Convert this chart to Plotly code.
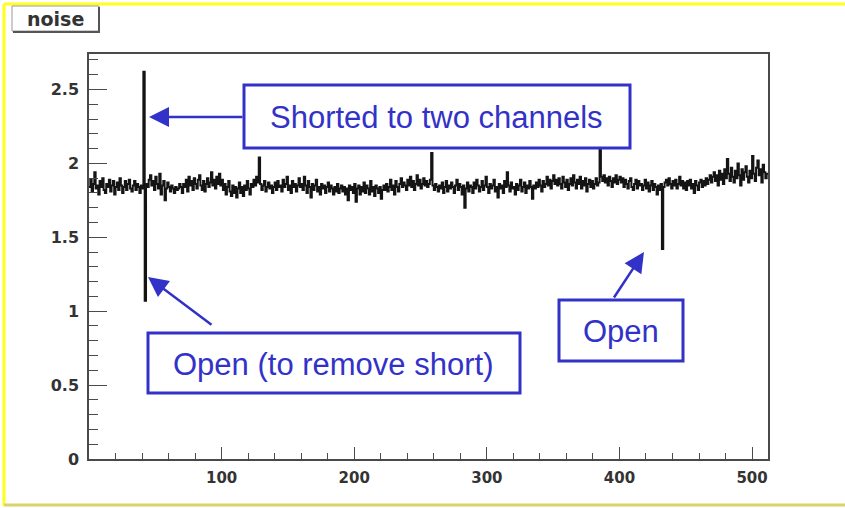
import numpy as np
import plotly.graph_objects as go

# ---------------- data (noise per channel, 512 channels) ----------------
noise = [
    1.84,1.89,1.81,1.86,1.94,1.83,1.85,1.79,1.88,1.84,1.90,1.82,1.80,1.86,1.84,1.89,
    1.81,1.85,1.88,1.79,1.84,1.87,1.82,1.90,1.85,1.80,1.84,1.88,1.82,1.86,1.89,1.83,
    1.81,1.85,1.88,1.82,1.86,1.84,1.80,1.85,1.83,2.62,1.07,1.86,1.84,1.89,1.92,1.85,
    1.88,1.82,1.91,1.86,1.83,1.93,1.79,1.85,1.88,1.75,1.83,1.87,1.84,1.81,1.85,1.83,
    1.80,1.84,1.82,1.83,1.86,1.84,1.80,1.86,1.84,1.89,1.81,1.91,1.85,1.88,1.82,1.90,
    1.86,1.83,1.89,1.92,1.85,1.82,1.88,1.81,1.86,1.90,1.84,1.87,1.94,1.85,1.89,1.83,
    1.91,1.86,1.93,1.85,1.89,1.82,1.86,1.79,1.84,1.88,1.81,1.78,1.85,1.80,1.84,1.77,
    1.83,1.87,1.80,1.84,1.78,1.85,1.82,1.88,1.83,1.79,1.86,1.84,1.89,1.85,1.91,1.87,
    2.04,1.86,1.82,1.85,1.88,1.81,1.84,1.87,1.83,1.85,1.80,1.84,1.87,1.82,1.88,1.84,
    1.85,1.81,1.89,1.84,1.86,1.91,1.82,1.85,1.80,1.88,1.84,1.86,1.81,1.85,1.90,1.84,
    1.86,1.82,1.91,1.85,1.80,1.88,1.84,1.77,1.86,1.82,1.85,1.89,1.81,1.84,1.79,1.86,
    1.83,1.85,1.80,1.84,1.87,1.81,1.85,1.83,1.79,1.84,1.81,1.86,1.80,1.83,1.85,1.81,
    1.84,1.79,1.83,1.75,1.85,1.82,1.84,1.80,1.86,1.74,1.83,1.85,1.79,1.84,1.81,1.87,
    1.80,1.85,1.83,1.79,1.88,1.81,1.84,1.78,1.85,1.83,1.80,1.84,1.76,1.82,1.85,1.82,
    1.86,1.81,1.84,1.89,1.82,1.85,1.79,1.88,1.84,1.81,1.86,1.90,1.84,1.87,1.85,1.82,
    1.89,1.85,1.91,1.84,1.88,1.82,1.86,1.92,1.85,1.89,1.83,1.86,1.90,1.85,1.88,1.84,
    1.86,1.89,2.07,1.85,1.82,1.86,1.84,1.81,1.85,1.83,1.87,1.80,1.84,1.88,1.81,1.85,
    1.83,1.87,1.84,1.80,1.85,1.89,1.82,1.86,1.84,1.79,1.85,1.70,1.83,1.87,1.81,1.85,
    1.84,1.80,1.87,1.83,1.89,1.85,1.81,1.84,1.88,1.82,1.85,1.91,1.84,1.80,1.86,1.83,
    1.85,1.89,1.81,1.84,1.77,1.86,1.83,1.85,1.80,1.88,1.84,1.94,1.85,1.81,1.87,1.83,
    1.84,1.79,1.86,1.82,1.85,1.89,1.81,1.84,1.87,1.80,1.85,1.83,1.88,1.84,1.76,1.85,
    1.83,1.87,1.84,1.89,1.85,1.81,1.88,1.84,1.86,1.91,1.85,1.89,1.83,1.88,1.92,1.86,
    1.89,1.85,1.90,1.86,1.83,1.91,1.87,1.84,1.89,1.82,1.86,1.90,1.85,1.92,1.87,1.83,
    1.89,1.86,1.91,1.83,1.88,1.85,1.90,1.81,1.86,1.89,1.84,1.88,1.83,1.86,1.90,1.85,
    1.87,2.09,1.91,1.88,1.92,1.87,1.90,1.85,1.91,1.88,1.84,1.90,1.87,1.92,1.86,1.89,
    1.91,1.87,1.90,1.84,1.89,1.86,1.83,1.88,1.90,1.84,1.82,1.86,1.89,1.83,1.88,1.85,
    1.86,1.82,1.85,1.89,1.83,1.87,1.81,1.85,1.88,1.82,1.86,1.84,1.79,1.85,1.82,1.86,
    1.42,1.84,1.87,1.89,1.85,1.90,1.86,1.83,1.88,1.85,1.89,1.83,1.86,1.91,1.85,1.88,
    1.83,1.87,1.82,1.88,1.85,1.89,1.83,1.86,1.80,1.88,1.85,1.82,1.87,1.89,1.84,1.88,
    1.85,1.90,1.86,1.89,1.92,1.87,1.91,1.94,1.88,1.92,1.85,1.95,1.89,1.93,1.86,1.96,
    1.90,2.03,1.93,1.88,1.97,1.91,1.87,1.95,1.90,2.00,1.92,1.85,1.96,1.89,1.94,1.98,
    1.91,1.87,1.95,1.90,2.05,1.93,1.88,1.97,2.02,1.92,1.96,1.87,1.99,1.94,1.90,1.93,
]
n_channels = len(noise)
bin_edges = list(range(n_channels + 1))
x_tick_values = [100, 200, 300, 400, 500]
x_tick_labels = ["100", "200", "300", "400", "500"]

title_text = "noise"
label_short = "Shorted to two channels"
label_open_short = "Open (to remove short)"
label_open = "Open"

# ---------------- layout geometry (pixels) ----------------
W, H = 845, 508
L, R, T, B = 89, 768, 54, 459
def px(x):
    return (x - L) / (R - L)
def py(y):
    return (B - y) / (B - T)

BLUE = "#3232c8"
AXC = "#4a4a4a"

fig = go.Figure()
fig.add_trace(go.Scatter(
    x=bin_edges, y=noise + [noise[-1]],
    mode="lines", line=dict(shape="hv", color="#141414", width=2),
    hoverinfo="skip", showlegend=False,
))

ytickfont = dict(family="DejaVu Sans", size=16, color="#333333", weight="bold")
xtickfont = dict(family="DejaVu Sans", size=15, color="#333333", weight="bold")
fig.update_layout(
    width=W, height=H, autosize=False,
    paper_bgcolor="white", plot_bgcolor="white",
    margin=dict(l=L, r=W - R, t=T, b=H - B, pad=0),
    showlegend=False,
    xaxis=dict(
        range=[0, 512], showgrid=False, zeroline=False,
        showline=True, linecolor=AXC, linewidth=1.5, mirror=True,
        tickmode="array", tickvals=x_tick_values, ticktext=x_tick_labels,
        ticks="inside", ticklen=12, tickwidth=1.3, tickcolor=AXC,
        minor=dict(tickmode="linear", tick0=0, dtick=20, ticks="inside",
                   ticklen=6, tickwidth=1.2, tickcolor=AXC),
        tickfont=xtickfont, ticklabelstandoff=4,
    ),
    yaxis=dict(
        range=[0, 2.74], showgrid=False, zeroline=False,
        showline=True, linecolor=AXC, linewidth=1.5, mirror=True,
        tickmode="linear", tick0=0, dtick=0.5,
        ticks="inside", ticklen=18, tickwidth=1.3, tickcolor=AXC,
        minor=dict(tickmode="linear", tick0=0, dtick=0.1, ticks="inside",
                   ticklen=9, tickwidth=1.2, tickcolor=AXC),
        tickfont=ytickfont, ticklabelstandoff=5,
    ),
)

shapes = []
# yellow outer border
shapes.append(dict(type="line", xref="paper", yref="paper",
                   x0=px(4), x1=px(845), y0=py(4), y1=py(4),
                   line=dict(color="#ffff1a", width=3)))
shapes.append(dict(type="line", xref="paper", yref="paper",
                   x0=px(4), x1=px(4), y0=py(4), y1=py(506),
                   line=dict(color="#ffff1a", width=3)))
shapes.append(dict(type="line", xref="paper", yref="paper",
                   x0=px(4), x1=px(845), y0=py(505), y1=py(505),
                   line=dict(color="#d9d36a", width=3)))
# title box "noise" with shadow
shapes.append(dict(type="rect", xref="paper", yref="paper",
                   x0=px(12), x1=px(99), y0=py(31), y1=py(6),
                   line=dict(color="#9a9a9a", width=1), fillcolor="white"))
shapes.append(dict(type="line", xref="paper", yref="paper",
                   x0=px(99), x1=px(99), y0=py(7), y1=py(32),
                   line=dict(color="#555555", width=2)))
shapes.append(dict(type="line", xref="paper", yref="paper",
                   x0=px(13), x1=px(100), y0=py(32), y1=py(32),
                   line=dict(color="#555555", width=2)))
# annotation boxes
for (x0, x1, y0, y1) in [(244, 630, 85, 148), (148, 520, 333, 393), (559, 683, 300, 361)]:
    shapes.append(dict(type="rect", xref="paper", yref="paper",
                       x0=px(x0), x1=px(x1), y0=py(y1), y1=py(y0),
                       line=dict(color=BLUE, width=3), fillcolor="white"))
fig.update_layout(shapes=shapes)

ann = []
ann.append(dict(xref="paper", yref="paper", x=px(55), y=py(19), text=title_text,
                showarrow=False, xanchor="center", yanchor="middle",
                font=dict(family="DejaVu Sans", size=19, color="#333333", weight="bold")))
boxfont = dict(family="Liberation Sans", size=31, color=BLUE)
ann.append(dict(xref="paper", yref="paper", x=px(437), y=py(117), text=label_short,
                showarrow=False, xanchor="center", yanchor="middle", font=boxfont))
ann.append(dict(xref="paper", yref="paper", x=px(333), y=py(364), text=label_open_short,
                showarrow=False, xanchor="center", yanchor="middle", font=boxfont))
ann.append(dict(xref="paper", yref="paper", x=px(621), y=py(331), text=label_open,
                showarrow=False, xanchor="center", yanchor="middle", font=boxfont))
# arrows: (tip_x, tip_y, tail_x, tail_y)
for (tx, ty, sx, sy) in [(149, 117, 244, 117), (148, 277, 213, 326), (644, 252, 613, 299)]:
    ann.append(dict(xref="paper", yref="paper", x=px(tx), y=py(ty), text="",
                    showarrow=True, ax=sx - tx, ay=sy - ty, axref="pixel", ayref="pixel",
                    arrowhead=2, arrowsize=1.6, arrowwidth=2.5, arrowcolor=BLUE,
                    standoff=0, startstandoff=0))
fig.update_layout(annotations=ann)

fig.write_html("out.html")
